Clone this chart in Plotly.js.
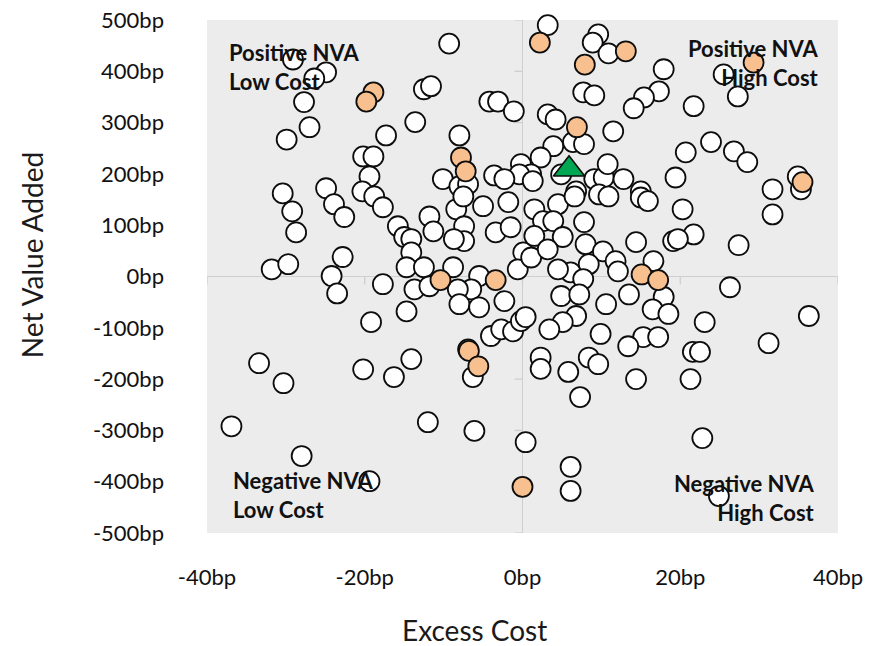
<!DOCTYPE html>
<html>
<head>
<meta charset="utf-8">
<script src="https://cdn.plot.ly/plotly-3.0.1.min.js"></script>
<style>html,body{margin:0;padding:0;background:#fff;}#chart{width:871px;height:646px;}</style>
</head>
<body>
<div id="chart"></div>
<script>
// Excess cost (bp) and Net Value Added (bp) per fund
const whiteX = [3.2,9.6,8.9,-9.3,10.9,-29.1,17.9,25.5,-24.9,-26.4,-12.5,-11.6,7.7,9.1,17.3,15.4,14.1,27.3,-4.2,-3.1,-1.1,-27.7,21.7,3.2,4.2,-13.6,-27.0,11.5,-17.3,-8.0,-29.9,3.9,6.4,7.8,23.9,20.7,26.8,-20.2,-18.9,2.3,28.5,-0.2,1.1,-0.4,4.9,-19.4,-10.1,-3.6,-2.3,9.1,10.3,10.8,12.8,19.4,34.9,-8.0,-6.9,31.7,35.3,15.0,6.8,1.3,-24.9,-20.3,-30.4,-29.2,-23.9,-22.6,-28.7,-22.8,-31.8,-29.7,-24.2,-23.5,-18.8,-17.7,-15.8,-15.0,-14.1,-14.1,-14.7,-12.5,-11.8,-11.3,-8.4,-7.5,-7.4,-7.4,-8.7,-5.0,-3.4,-1.8,-1.5,0.1,-0.6,-8.8,-5.5,-6.5,-17.7,-13.7,-11.8,-8.2,-8.0,-5.5,-2.3,-14.7,-19.2,-4.0,-2.7,-1.2,-0.2,-6.9,-14.1,1.5,4.5,6.6,9.7,10.9,15.0,15.9,2.6,3.9,7.8,5.1,1.5,1.1,3.2,8.0,10.2,8.4,6.1,4.5,7.7,11.8,12.1,14.4,16.6,19.1,4.9,7.2,10.6,13.5,17.9,16.5,18.5,0.4,6.8,5.1,3.4,9.9,15.3,17.2,13.4,2.3,8.4,9.6,20.3,31.7,21.7,19.7,27.4,26.3,23.1,36.3,31.2,21.6,22.5,-33.4,-30.3,-20.2,-36.9,-28.0,-19.4,-16.3,-6.3,-12.0,-6.1,2.3,5.8,14.4,7.3,0.4,6.1,6.1,21.3,22.8,24.9];
const whiteY = [490,472,456,454,435,423,404,394,398,386,365,371,359,353,361,349,328,351,341,341,322,340,332,316,306,301,291,283,275,275,267,254,262,258,262,242,244,234,234,232,223,219,199,199,199,195,190,197,190,190,193,219,190,193,195,176,180,170,170,166,166,186,172,166,162,127,141,116,86,38,14,24,1,-33,156,135,98,77,73,47,18,18,117,88,131,156,98,69,73,137,86,145,96,47,14,18,1,-25,-15,-25,-19,-25,-54,-60,-48,-68,-89,-116,-103,-107,-87,-142,-161,131,141,156,160,156,154,147,108,108,106,77,79,37,53,63,49,24,8,14,-5,30,10,67,30,69,-38,-35,-54,-35,-40,-64,-73,-79,-77,-89,-103,-112,-118,-118,-136,-158,-158,-171,131,121,82,73,61,-21,-89,-77,-130,-147,-147,-169,-208,-181,-292,-350,-399,-196,-196,-284,-301,-180,-186,-200,-235,-323,-371,-418,-200,-315,-428];
const orangeX = [2.2,13.1,29.3,7.9,-18.9,-19.8,6.9,-7.8,-7.2,35.5,-10.4,-3.4,15.1,17.2,-6.8,-5.6,0.0];
const orangeY = [456,439,417,413,359,341,291,232,205,184,-7,-7,4,-7,-145,-175,-410];
const greenX = [5.9];
const greenY = [209];

const xTickVals = [-40,-20,0,20,40];
const xTickText = ['-40bp','-20bp','0bp','20bp','40bp'];
const yTickVals = [-500,-400,-300,-200,-100,0,100,200,300,400,500];
const yTickText = ['-500bp','-400bp','-300bp','-200bp','-100bp','0bp','100bp','200bp','300bp','400bp','500bp'];

const FONT = 'Lato, "DejaVu Sans", sans-serif';
const axisGray = '#cfcfcf';

const traces = [
  {type:'scatter', mode:'markers', x:whiteX, y:whiteY, cliponaxis:false, hoverinfo:'x+y',
   marker:{symbol:'circle', size:20, color:'#ffffff', line:{color:'#0d0d0d', width:1.8}}},
  {type:'scatter', mode:'markers', x:orangeX, y:orangeY, cliponaxis:false, hoverinfo:'x+y',
   marker:{symbol:'circle', size:20, color:'#f8c08f', line:{color:'#0d0d0d', width:1.8}}},
  {type:'scatter', mode:'markers', x:greenX, y:greenY, cliponaxis:false, hoverinfo:'x+y',
   marker:{symbol:'triangle-up', size:27, color:'#00a651', line:{color:'#0d0d0d', width:1.6}}}
];

const shapes = [];
xTickVals.forEach(v => shapes.push({type:'line', xref:'x', yref:'y', ysizemode:'pixel', yanchor:0,
  x0:v, x1:v, y0:0, y1:-8, layer:'below', line:{color:axisGray, width:1.3}}));
yTickVals.forEach(v => shapes.push({type:'line', xref:'x', yref:'y', xsizemode:'pixel', xanchor:0,
  x0:-8, x1:0, y0:v, y1:v, layer:'below', line:{color:axisGray, width:1.3}}));

const qFont = {family:FONT, size:22, color:'#111111'};
const annotations = [
  {xref:'paper', yref:'paper', x:0.0315, y:0.909, xanchor:'left', yanchor:'middle', align:'left', showarrow:false,
   text:'<b>Positive NVA<br>Low Cost</b>', font:qFont},
  {xref:'paper', yref:'paper', x:0.9735, y:0.916, xanchor:'right', yanchor:'middle', align:'right', showarrow:false,
   text:'<b>Positive NVA<br>High Cost</b>', font:qFont},
  {xref:'paper', yref:'paper', x:0.0378, y:0.075, xanchor:'left', yanchor:'middle', align:'left', showarrow:false,
   text:'<b>Negative NVA<br>Low Cost</b>', font:qFont},
  {xref:'paper', yref:'paper', x:0.967, y:0.068, xanchor:'right', yanchor:'middle', align:'right', showarrow:false,
   text:'<b>Negative NVA<br>High Cost</b>', font:qFont},
  {xref:'paper', yref:'paper', x:-0.277, y:0.542, xanchor:'center', yanchor:'middle', textangle:-90, showarrow:false,
   text:'Net Value Added', font:{family:FONT, size:28, color:'#1a1a1a'}},
  {xref:'paper', yref:'paper', x:0.4247, y:-0.189, xanchor:'center', yanchor:'middle', showarrow:false,
   text:'Excess Cost', font:{family:FONT, size:28, color:'#1a1a1a'}}
];

const layout = {
  width:871, height:646,
  margin:{l:207, r:33, t:20, b:113, pad:0},
  paper_bgcolor:'#ffffff', plot_bgcolor:'#ececec',
  showlegend:false,
  font:{family:FONT, size:22, color:'#111111'},
  xaxis:{range:[-40,40], tickvals:xTickVals, ticktext:xTickText, showgrid:false, showline:false,
         zeroline:true, zerolinecolor:axisGray, zerolinewidth:1.3, ticks:'', ticklabelstandoff:29,
         tickfont:{family:FONT, size:22, color:'#111111'}, fixedrange:true},
  yaxis:{range:[-500,500], tickvals:yTickVals, ticktext:yTickText, showgrid:false, showline:false,
         zeroline:true, zerolinecolor:axisGray, zerolinewidth:1.3, ticks:'', ticklabelstandoff:42,
         tickfont:{family:FONT, size:22, color:'#111111'}, fixedrange:true},
  shapes:shapes,
  annotations:annotations
};

Plotly.newPlot('chart', traces, layout, {displayModeBar:false, staticPlot:true});
</script>
</body>
</html>
